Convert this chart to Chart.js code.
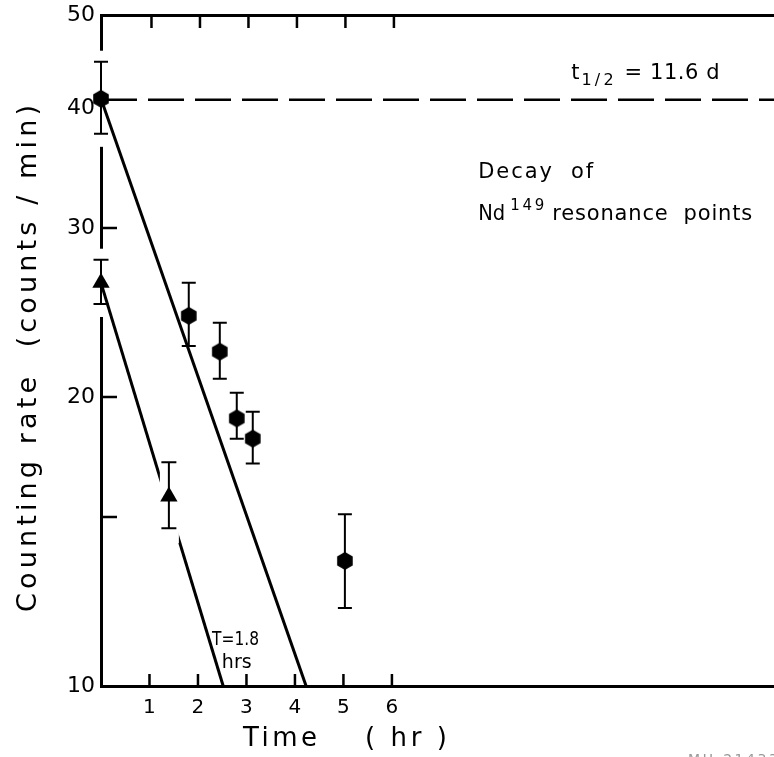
<!DOCTYPE html>
<html><head><meta charset="utf-8">
<script src="https://cdn.jsdelivr.net/npm/chart.js@4.4.1/dist/chart.umd.min.js"></script>
<style>html,body{margin:0;padding:0;background:#fff;overflow:hidden}#wrap{width:774px;height:757px}</style>
</head><body><div id="wrap"><canvas id="c" width="774" height="757"></canvas></div>
<script>
// ---- data ----
const hexTimes   = [0, 1.81, 2.45, 2.80, 3.13, 5.03];
const hexRates   = [40.9, 24.3, 22.3, 19.0, 18.1, 13.5];
const hexErrHigh = [44.7, 26.3, 23.9, 20.2, 19.3, 15.1];
const hexErrLow  = [37.6, 22.6, 20.9, 18.1, 17.05, 12.06];
const triTimes   = [0, 1.40];
const triRates   = [26.3, 15.75];
const triErrHigh = [27.8, 17.1];
const triErrLow  = [25.0, 14.6];
const fitATimes  = [0, 4.23];
const fitARates  = [40.9, 10];
const fitBTimes  = [0, 2.52];
const fitBRates  = [26.3, 10];
const halfLifeRate = 40.8;
const xTickValues = [1, 2, 3, 4, 5, 6];
const yTickLabelValues = [10, 20, 30, 40, 50];
const yTickMarkValues = [15, 20, 30];
const xMin = 0, xMax = 13.88, yMin = 10, yMax = 50;

const FONT = '"DejaVu Sans", sans-serif';
const pts = (xs, ys) => xs.map((x, i) => ({x, y: ys[i]}));

const hexImg = (() => {
  const c = document.createElement('canvas'); c.width = 20; c.height = 20;
  const g = c.getContext('2d'); g.fillStyle = '#000'; g.beginPath();
  for (let i = 0; i < 6; i++) {
    const a = -Math.PI / 2 + i * Math.PI / 3;
    const px = 10 + 9 * Math.cos(a), py = 10 + 9 * Math.sin(a);
    i ? g.lineTo(px, py) : g.moveTo(px, py);
  }
  g.closePath(); g.fill(); return c;
})();

function fitText(ctx, text, x, y, size, target, align) {
  ctx.font = size + 'px ' + FONT;
  if ('letterSpacing' in ctx) ctx.letterSpacing = '0px';
  const w = ctx.measureText(text).width;
  let ls = 0;
  if (target && text.length > 1) ls = (target - w) / (text.length - 1);
  ctx.textAlign = 'left';
  const total = target ? target : w;
  let startX = x;
  if (align === 'center') startX = x - total / 2;
  else if (align === 'right') startX = x - total;
  if (ls >= 0 && 'letterSpacing' in ctx) {
    ctx.letterSpacing = ls + 'px';
    ctx.fillText(text, startX, y);
    ctx.letterSpacing = '0px';
  } else {
    ctx.save(); ctx.translate(startX, y); ctx.scale(total / w, 1); ctx.fillText(text, 0, 0); ctx.restore();
  }
  return total;
}

const zeroPad = s => { s.paddingLeft = 0; s.paddingRight = 0; s.paddingTop = 0; s.paddingBottom = 0; };

const decor = {
  id: 'decor',
  beforeDatasetsDraw(chart) {
    const {ctx, chartArea: ca, scales: {x, y}} = chart;
    ctx.save();
    // gaps in the left axis around the error bars standing on it
    ctx.fillStyle = '#fff';
    [[hexErrHigh[0], hexErrLow[0]], [triErrHigh[0], triErrLow[0]]].forEach(([hi, lo]) => {
      const t = y.getPixelForValue(hi) - 11, b = y.getPixelForValue(lo) + 13;
      ctx.fillRect(ca.left - 4, t, 8, b - t);
    });
    // inside tick marks
    ctx.strokeStyle = '#000'; ctx.lineWidth = 2.5;
    ctx.beginPath();
    xTickValues.forEach(v => {
      const px = x.getPixelForValue(v);
      ctx.moveTo(px, ca.bottom); ctx.lineTo(px, ca.bottom - 12);
      ctx.moveTo(px + 2, ca.top); ctx.lineTo(px + 2, ca.top + 13);
    });
    yTickMarkValues.forEach(v => {
      const py = y.getPixelForValue(v);
      ctx.moveTo(ca.left, py); ctx.lineTo(ca.left + 16, py);
    });
    ctx.stroke();
    ctx.restore();
  },
  afterDatasetDraw(chart, args) {
    if (args.index !== 2) return;
    // break in the triangle fit line around the second triangle
    const {ctx, scales: {x, y}} = chart;
    const px = x.getPixelForValue(triTimes[1]);
    const t = y.getPixelForValue(triErrHigh[1]) - 20, b = y.getPixelForValue(triErrLow[1]) + 15;
    ctx.save(); ctx.fillStyle = '#fff'; ctx.fillRect(px - 9, t, 19, b - t); ctx.restore();
  },
  afterDatasetsDraw(chart) {
    const {ctx, scales: {x, y}} = chart;
    ctx.save(); ctx.strokeStyle = '#000'; ctx.lineWidth = 2;
    const bars = (xs, hi, lo, cap) => xs.forEach((v, i) => {
      const px = x.getPixelForValue(v), t = y.getPixelForValue(hi[i]), b = y.getPixelForValue(lo[i]);
      ctx.beginPath();
      ctx.moveTo(px, t); ctx.lineTo(px, b);
      ctx.moveTo(px - cap, t); ctx.lineTo(px + cap, t);
      ctx.moveTo(px - cap, b); ctx.lineTo(px + cap, b);
      ctx.stroke();
    });
    bars(hexTimes, hexErrHigh, hexErrLow, 7);
    bars(triTimes, triErrHigh, triErrLow, 7.5);
    ctx.restore();
  },
  afterDraw(chart) {
    const {ctx, scales: {x, y}} = chart;
    ctx.save(); ctx.fillStyle = '#000'; ctx.textBaseline = 'middle';
    // axis titles
    fitText(ctx, 'Time', 243, 739, 26, 74, 'left');
    fitText(ctx, '( hr )', 365, 739, 26, 82, 'left');
    ctx.save(); ctx.translate(29, 612); ctx.rotate(-Math.PI / 2);
    fitText(ctx, 'Counting rate  (counts / min)', 0, 0, 27, 507, 'left');
    ctx.restore();
    // half-life label
    let hx = x.getPixelForValue(9.7), hy = y.getPixelForValue(43.4);
    hx += fitText(ctx, 't', hx, hy, 21, 0, 'left') + 2;
    hx += fitText(ctx, '1/2', hx, hy + 7, 16, 32, 'left') + 11;
    fitText(ctx, '= 11.6 d', hx, hy, 21, 95, 'left');
    // caption
    const cx = x.getPixelForValue(7.78);
    fitText(ctx, 'Decay  of', cx, y.getPixelForValue(34.3), 21, 115, 'left');
    const ny = y.getPixelForValue(31.0);
    let nx = cx + fitText(ctx, 'Nd', cx, ny, 21, 27, 'left') + 5;
    nx += fitText(ctx, '149', nx, ny - 8, 15, 34, 'left') + 8;
    fitText(ctx, 'resonance  points', nx, ny, 21, 200, 'left');
    // T = 1.8 hrs
    fitText(ctx, 'T=1.8', x.getPixelForValue(2.29), y.getPixelForValue(11.17), 19, 47, 'left');
    fitText(ctx, 'hrs', x.getPixelForValue(2.49), y.getPixelForValue(10.57), 19, 30, 'left');
    // archive number, cut by the page edge
    ctx.fillStyle = '#999'; ctx.textBaseline = 'top';
    fitText(ctx, 'MU-21433', 688, 753, 14, 90, 'left');
    ctx.restore();
  }
};

new Chart(document.getElementById('c'), {
  type: 'scatter',
  data: {
    datasets: [
      {data: pts([xMin, xMax], [halfLifeRate, halfLifeRate]), showLine: true, borderColor: '#000', borderWidth: 2.5, borderDash: [36, 11], pointRadius: 0, order: 3},
      {data: pts(fitATimes, fitARates), showLine: true, borderColor: '#000', borderWidth: 3, pointRadius: 0, order: 2},
      {data: pts(fitBTimes, fitBRates), showLine: true, borderColor: '#000', borderWidth: 3, pointRadius: 0, order: 2},
      {data: pts(hexTimes, hexRates), pointStyle: hexImg, pointRadius: 9, order: 0, clip: false},
      {data: pts(triTimes, triRates), pointStyle: 'triangle', pointRadius: 10, backgroundColor: '#000', borderColor: '#000', borderWidth: 0, order: 0, clip: false}
    ]
  },
  options: {
    responsive: false, animation: false, events: [], devicePixelRatio: 1,
    layout: {autoPadding: false, padding: {top: 15, left: 0, right: 0, bottom: 0}},
    plugins: {legend: {display: false}, tooltip: {enabled: false}},
    scales: {
      x: {
        type: 'linear', min: xMin, max: xMax, position: 'bottom',
        afterBuildTicks: s => { s.ticks = xTickValues.map(v => ({value: v})); },
        afterFit: s => { s.height = 71; zeroPad(s); },
        grid: {display: false, drawTicks: false},
        border: {display: true, color: '#000', width: 3},
        ticks: {color: '#000', font: {family: FONT, size: 20}, padding: 10, maxRotation: 0, autoSkip: false, callback: v => String(v)}
      },
      x2: {
        type: 'linear', min: xMin, max: xMax, position: 'top',
        afterFit: s => { s.height = 0; zeroPad(s); },
        grid: {display: false, drawTicks: false},
        border: {display: true, color: '#000', width: 3},
        ticks: {display: false}
      },
      y: {
        type: 'logarithmic', min: yMin, max: yMax, position: 'left',
        afterBuildTicks: s => { s.ticks = yTickLabelValues.map(v => ({value: v})); },
        afterFit: s => { s.width = 101; zeroPad(s); },
        grid: {display: false, drawTicks: false},
        border: {display: true, color: '#000', width: 3},
        ticks: {color: '#000', font: {family: FONT, size: 22}, padding: 6, autoSkip: false, callback: v => String(v)}
      }
    }
  },
  plugins: [decor]
});
</script></body></html>
